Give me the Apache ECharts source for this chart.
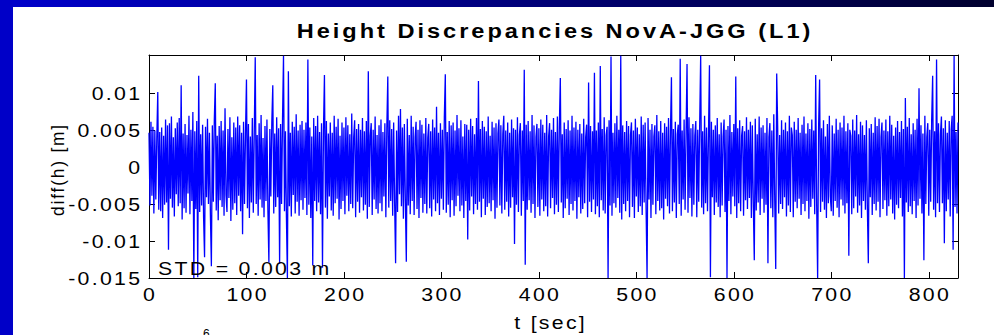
<!DOCTYPE html>
<html>
<head>
<meta charset="utf-8">
<script src="https://cdn.jsdelivr.net/npm/echarts@6/dist/echarts.min.js"></script>
<style>
  html, body { margin: 0; padding: 0; background: #ffffff; }
  #chart { width: 994px; height: 335px; }
  /* spaced lettering of the exported figure */
  #chart text { letter-spacing: 2px; }
  #chart text[style*="bold"] { letter-spacing: 2.6px; }
</style>
</head>
<body>
<div id="chart"></div>
<script>
// Height difference NovA minus JGG, L1 solution, one epoch per second, in millimetres
const diffMm = [
  4.6, -5.2, 6.1, -3.9, 5.4, -6.3, 4.9, -4.4, 3.8, 10.1,
  -5.8, 4.7, -6.0, 5.3, -6.9, 4.2, -5.1, 6.4, -4.8, 5.6,
  -11.2, 5.9, -4.3, 6.8, -5.5, 4.0, -6.7, 5.2, -3.7, 6.0,
  -5.3, 6.6, -4.9, 11.0, -7.1, 4.5, -5.6, 5.8, -6.2, 4.3,
  -3.6, 6.9, -6.4, 5.0, -4.6, 7.4, -15.0, 4.8, -5.7, 6.2,
  -14.9, 12.3, -6.1, 4.4, -5.2, 5.7, -6.8, -12.2, 5.4, -4.1,
  6.5, -5.0, 4.6, -6.5, -13.4, 5.6, -4.7, 6.3, 11.3, -5.9,
  4.2, -7.2, 5.5, -4.5, 6.2, -5.4, 4.9, -6.6, 7.9, -3.8,
  -6.1, 5.1, -4.2, 6.7, -7.3, 4.0, -5.8, 6.0, -4.9, 5.3,
  -6.5, 6.8, -3.9, 5.6, -6.0, 4.6, -9.1, 6.1, -5.0, 4.4,
  11.8, -5.6, 5.8, -6.9, 4.1, -4.8, 6.6, -6.2, 4.7, 14.8,
  -5.0, 4.3, -6.6, 5.9, -4.4, 7.0, -5.5, 3.9, -6.8, 5.5,
  -4.6, 6.4, -5.9, -12.9, 5.1, -4.0, 6.0, 11.0, -6.3, 4.5,
  -5.4, 6.7, -4.1, 5.2, -13.1, 5.8, -5.0, 6.5, 15.0, -6.0,
  4.8, -6.9, -15.0, 12.9, -5.3, 4.6, -6.7, 6.1, -3.8, 5.4,
  -6.3, 7.1, -4.7, 4.9, -6.6, 5.7, -4.5, 6.2, -5.8, 5.0,
  -4.2, 6.0, -6.5, 14.5, -5.1, 5.3, -6.9, 4.1, -13.3, 6.6,
  -4.6, 5.5, -6.0, 6.9, -4.8, 4.7, -6.4, 5.9, -13.6, 4.9,
  12.4, -5.5, 6.2, -7.0, 4.5, -4.0, 6.0, -5.9, 4.6, -6.6,
  6.9, -4.9, 5.4, -4.3, 6.5, -7.1, 4.2, -5.7, 6.0, -4.6,
  5.3, -6.4, 6.7, -3.9, 5.6, -6.0, 4.4, -5.0, 7.2, -5.6,
  4.0, 6.3, -6.8, 5.1, -4.7, 5.8, -6.2, 5.0, -4.1, 6.6,
  -5.9, 4.8, -5.1, 6.2, -7.0, 12.9, -5.4, 4.2, 5.9, -6.5,
  5.0, -4.4, 6.8, -5.7, 4.3, -6.3, 5.6, -4.9, 6.4, -6.0,
  4.7, -4.0, 5.9, -6.8, 5.2, 12.2, -5.5, 6.3, -4.6, 5.1,
  -6.6, 6.0, -4.8, -13.0, 4.9, -6.1, 6.9, -3.7, 7.8, -5.3,
  5.3, -7.0, 5.8, -4.5, -12.8, 6.5, -5.2, 4.3, -6.4, 6.9,
  -4.6, 5.4, -6.5, 4.0, 6.1, -5.7, 5.0, -6.9, 6.3, -4.2,
  5.7, -6.2, 4.5, -5.0, 6.6, -6.3, 3.9, 5.8, -5.6, 4.8,
  -6.7, 6.4, -4.4, 5.3, -6.0, 8.1, -4.9, 4.6, -6.5, 5.9,
  -4.3, 5.0, -5.8, 6.7, 12.5, -6.2, 4.7, -5.1, 6.2, -6.8,
  5.6, -4.5, 6.0, -6.6, 4.9, -5.3, 7.0, -3.9, 5.2, -6.0,
  6.3, -5.2, 4.1, -6.9, 5.8, -4.6, 5.7, -9.8, 5.0, -5.9,
  6.5, -4.0, 5.5, -6.4, 4.4, -5.0, 6.6, -5.8, 11.6, -4.7,
  5.1, -6.8, 6.2, -4.3, 5.4, -6.5, 4.8, -5.4, 6.8, -4.9,
  4.2, -6.0, 6.1, -4.5, 5.3, -7.0, 5.9, -5.5, 4.5, 6.4,
  -5.2, 5.6, -6.3, 4.4, 6.9, -5.8, 4.9, -4.7, 6.0, -6.7,
  4.6, -5.5, 6.4, -4.1, 5.2, -10.4, 5.0, -5.1, 6.7, -6.1,
  4.3, 5.9, -6.6, 4.9, -4.6, 13.1, -13.2, 5.7, -5.8, 6.2,
  -4.5, 4.8, -6.2, 7.0, -5.0, 5.6, -6.9, 4.0, 5.8, -5.4,
  5.2, -6.6, 6.4, -4.4, 5.7, -6.0, 4.6, -5.3, 7.0, -6.7,
  4.1, 5.9, -5.6, 5.0, -4.2, 6.6, -6.4, 4.7, -5.1, 6.8,
  -6.1, 5.4, 12.0, -4.8, 4.4, -6.9, 6.0, -5.6, 5.1, -4.3,
  6.3, -6.5, 4.9, -5.0, 6.9, -5.9, 5.3, -4.6, 6.1, -7.0,
  5.0, -4.1, 5.8, -6.3, 4.5, -5.7, 6.5, -4.9, 4.0, 5.7,
  -6.8, 11.4, -4.7, 5.5, -6.1, 4.8, -4.4, 12.7, -6.4, 4.9,
  -5.3, 6.0, -6.8, 13.6, -4.5, 5.1, -5.9, 6.7, -6.3, 4.3,
  5.4, -15.0, 6.3, -5.2, 14.9, -6.6, 4.6, -4.9, 5.9, -5.5,
  6.9, -4.2, 5.0, -6.2, 15.0, -7.1, 5.6, -5.0, 4.7, -6.0,
  6.2, -4.6, 5.5, -6.8, 4.3, 6.0, -5.4, 4.9, -6.9, 6.5,
  -4.0, 5.3, -6.1, 4.4, -5.3, 6.8, -6.5, 5.7, -4.8, 6.0,
  -5.7, -15.0, 6.6, -4.4, 5.0, -6.9, 5.8, -5.1, 4.1, 5.6,
  -6.4, 7.0, -4.6, 4.8, -5.9, 6.2, -5.6, 4.6, -7.1, 5.9,
  -4.3, 5.4, -5.3, 6.6, -6.3, 4.7, 12.1, -6.0, 5.1, -4.8,
  6.1, -6.9, 4.4, 5.7, -5.0, 14.6, -6.6, 4.9, -4.4, 6.4,
  -5.8, 4.5, 13.9, -6.2, 6.7, -4.2, 5.2, -6.7, 5.8, -5.1,
  4.2, 6.2, -6.8, 5.0, -4.7, 5.9, 15.0, -5.5, 4.8, -6.4,
  6.9, -4.9, 5.3, -6.0, 4.3, 13.7, -14.9, 6.1, -4.1, 5.0,
  -6.5, 5.6, -4.8, 6.6, -5.4, 4.4, -6.8, 6.0, -5.2, 4.1,
  6.4, -6.1, 5.0, -15.0, 5.5, -4.6, 7.0, -6.4, 4.7, -4.0,
  5.8, -5.3, 12.2, -6.9, 5.2, -4.9, 6.3, -6.0, 4.2, 5.5,
  -6.6, 4.8, -4.5, 6.7, -5.7, 5.0, -4.2, 6.1, -6.9, 5.6,
  -5.0, -12.6, 6.5, -5.9, 4.4, -4.8, 6.8, -6.5, 5.3, -4.3,
  5.6, -6.2, 4.6, -5.1, 6.6, -13.0, 4.0, 5.9, -5.6, 4.9,
  -6.8, 7.1, -4.6, -13.8, 12.6, 5.4, -6.3, 4.3, -5.0, 6.3,
  -5.7, 5.0, -4.1, 6.0, -6.7, 4.8, -5.2, 6.9, -6.1, 5.3,
  4.3, -6.8, 6.1, -4.7, 5.0, -5.6, 6.6, -4.3, 4.6, -6.5,
  5.7, -5.0, 6.8, -6.0, 4.5, -4.6, 5.9, -7.0, 5.1, -5.4,
  6.4, -4.3, 4.9, -6.4, 12.4, -5.1, -15.0, 5.5, 11.8, -6.1,
  5.2, -4.7, 6.3, -5.8, 4.1, -6.9, 5.8, -4.9, 6.9, -4.0,
  -6.0, 5.6, -6.6, 4.5, -4.6, 6.5, -5.5, 5.0, -6.8, 6.0,
  -4.4, 5.3, -5.2, 6.9, -6.3, 4.8, -4.9, 5.9, -12.0, 5.0,
  4.2, -6.4, 6.4, -5.6, 4.9, -4.0, 7.0, -6.2, 4.4, -5.2,
  6.1, -6.9, 5.6, -4.6, 4.3, -5.8, 6.3, -5.4, -13.0, 5.2,
  -4.1, 5.8, -6.5, 4.6, -5.0, 6.7, -5.9, 5.5, -4.7, 6.5,
  -6.8, 4.0, 6.0, -5.7, 4.9, -4.5, 6.4, -6.6, 4.8, -5.3,
  6.9, -4.4, 5.7, -6.3, 4.2, -7.1, 5.3, -5.1, 6.2, -5.6,
  4.7, -4.2, 6.2, -6.7, 5.1, -15.0, 9.3, -4.8, 5.4, -6.1,
  6.6, -5.3, 4.4, -6.4, 5.9, -4.6, 5.0, -6.9, 6.5, -5.2,
  10.6, -4.3, 5.6, -6.3, 4.5, -12.6, 6.9, -5.0, 4.0, 5.9,
  -6.6, 5.0, -4.7, 6.4, 12.3, -5.8, 4.8, -6.8, 14.5, -4.9,
  5.9, -6.1, 4.4, 6.8, -4.9, 5.2, -10.3, 6.3, -6.0, 4.6,
  -4.4, 6.2, -6.7, 5.0, 6.9, -11.2, 15.0, -5.4, 4.7, -6.3,
  6.0
];
const epochSec = 1;

const xMin = 0, xMax = 830;
const yMin = -0.015, yMax = 0.0151;
const xTicks = [0, 100, 200, 300, 400, 500, 600, 700, 800];
const xTickLabels = ['0', '100', '200', '300', '400', '500', '600', '700', '800'];
const yTicks = [-0.015, -0.01, -0.005, 0, 0.005, 0.01];
const yTickLabels = ['-0.015', '-0.01', '-0.005', '0', '0.005', '0.01'];

const titleText = 'Height Discrepancies NovA-JGG (L1)';
const xName = 't [sec]';
const yName = 'diff(h) [m]';
const stdText = 'STD = 0.003 m';
const footText = '6';

const FONT = '"Liberation Sans", Arial, Helvetica, sans-serif';
const INK = '#000000';
const WIDE = 1.15;      // horizontal stretch of the lettering
const TRAIL = 2 * WIDE; // trailing letter spacing after the last glyph

const points = diffMm.map((v, i) => [i * epochSec, v / 1000]);

const chart = echarts.init(document.getElementById('chart'), null, { renderer: 'svg' });

const tickStyle = { show: true, inside: true, length: 6, lineStyle: { color: INK, width: 1 } };
const axisLine = { show: true, onZero: false, lineStyle: { color: INK, width: 1 } };

function valueAxis(position, min, max, ticks) {
  return {
    type: 'value', position, min, max,
    axisLine,
    axisTick: Object.assign({ customValues: ticks }, tickStyle),
    axisLabel: { show: false },
    splitLine: { show: false }
  };
}

chart.setOption({
  animation: false,
  backgroundColor: '#ffffff',
  grid: { left: 149, right: 36, top: 55, bottom: 57, containLabel: false },
  xAxis: [
    valueAxis('bottom', xMin, xMax, xTicks),
    valueAxis('top', xMin, xMax, xTicks)
  ],
  yAxis: [
    valueAxis('left', yMin, yMax, yTicks),
    valueAxis('right', yMin, yMax, yTicks)
  ],
  series: [
    {
      type: 'line',
      data: points,
      xAxisIndex: 0, yAxisIndex: 0,
      showSymbol: false,
      symbol: 'none',
      sampling: null,
      clip: true,
      lineStyle: { color: '#0000ff', width: 1.3 },
      z: 2
    }
  ]
});

// Labels are laid out from the axis scales, then drawn as stretched text
const px = (v) => chart.convertToPixel({ xAxisIndex: 0 }, v);
const py = (v) => chart.convertToPixel({ yAxisIndex: 0 }, v);
const plotLeft = px(xMin), plotRight = px(xMax);
const plotTop = py(yMax), plotBottom = py(yMin);

function label(text, x, y, opts) {
  return Object.assign({
    type: 'text', x, y, z: 100, silent: true,
    scaleX: WIDE,
    style: {
      text, fill: INK, font: '18.5px ' + FONT,
      align: 'center', verticalAlign: 'middle'
    }
  }, opts || {});
}

const graphics = [
  // slide frame: dark top band and blue left edge
  {
    type: 'rect', left: 0, top: 0, z: 0, silent: true,
    shape: { width: 994, height: 7 },
    style: {
      fill: new echarts.graphic.LinearGradient(0, 0, 1, 0, [
        { offset: 0, color: '#0000cc' },
        { offset: 1, color: '#00002e' }
      ])
    }
  },
  {
    type: 'rect', left: 0, top: 0, z: 0, silent: true,
    shape: { width: 13, height: 335 },
    style: { fill: '#0000c8' }
  },
  // heading
  {
    type: 'text', x: (plotLeft + plotRight) / 2 + 1.5, y: 31.5, z: 100, silent: true,
    scaleX: 1.15,
    style: {
      text: titleText, fill: INK,
      font: 'bold 20.5px ' + FONT,
      align: 'center', verticalAlign: 'middle'
    }
  }
];

xTicks.forEach((v, i) => {
  graphics.push(label(xTickLabels[i], px(v) + TRAIL / 2, plotBottom + 16.5));
});
yTicks.forEach((v, i) => {
  const l = label(yTickLabels[i], plotLeft - 9 + TRAIL, py(v) + 1);
  l.style.align = 'right';
  graphics.push(l);
});

graphics.push(label(xName, (plotLeft + plotRight) / 2 - 4 + TRAIL / 2, plotBottom + 45));
graphics.push(label(yName, 57.5, (plotTop + plotBottom) / 2 + 4 - 1, {
  rotation: Math.PI / 2, scaleX: 0.93
}));

const stdLabel = label(stdText, plotLeft + 9, plotBottom - 9);
stdLabel.style.align = 'left';
graphics.push(stdLabel);

const foot = label(footText, 203, 328, { scaleX: 1 });
foot.style.font = '12px ' + FONT;
foot.style.align = 'left';
foot.style.verticalAlign = 'top';
graphics.push(foot);

chart.setOption({ graphic: graphics });
</script>
</body>
</html>
